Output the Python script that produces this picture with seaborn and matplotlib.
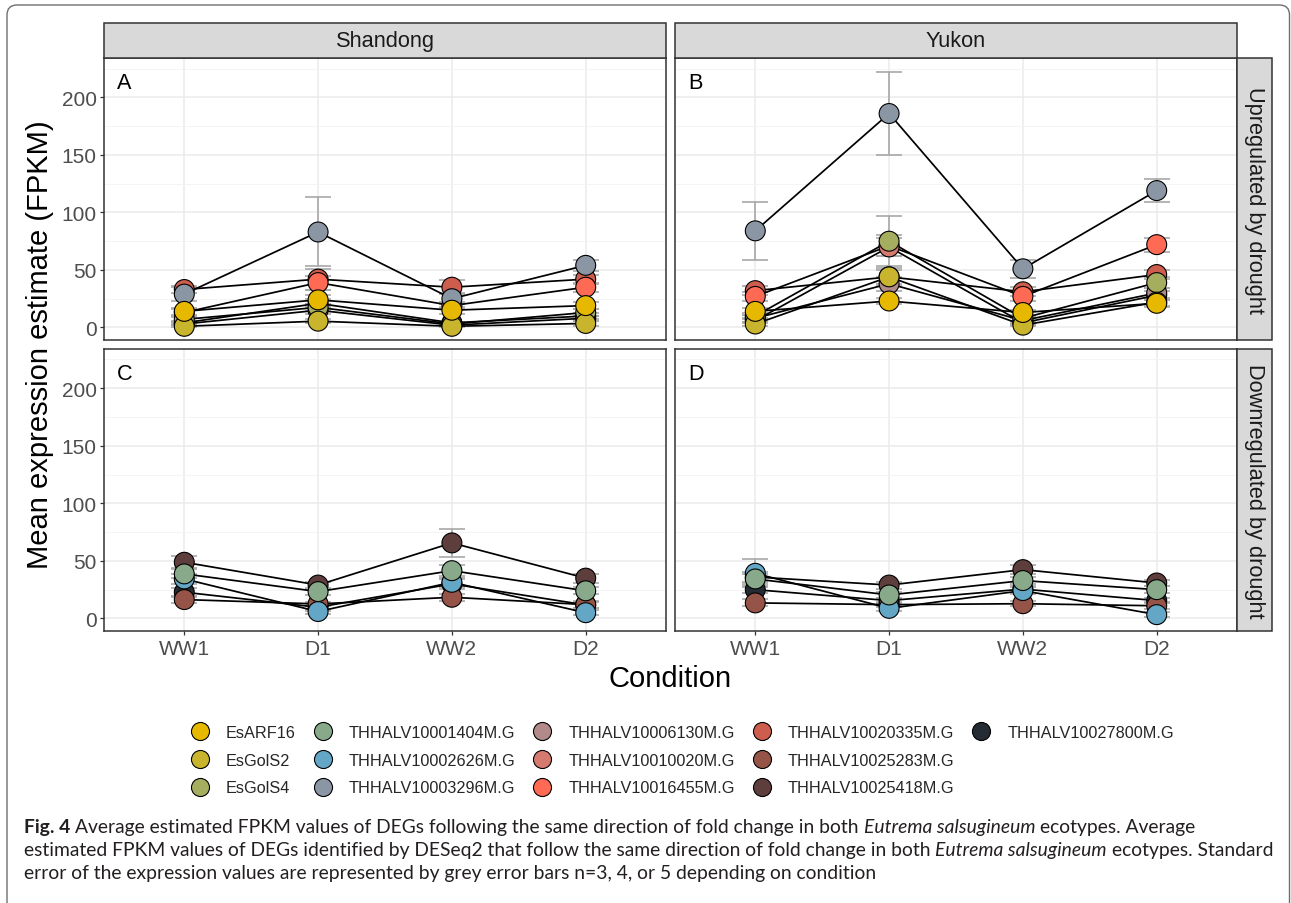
import numpy as np
import pandas as pd
import matplotlib
matplotlib.use("Agg")
import matplotlib.pyplot as plt
import seaborn as sns
from matplotlib.patches import Rectangle, FancyBboxPatch
from matplotlib.lines import Line2D
from matplotlib import font_manager as fm
import matplotlib.transforms as mtransforms

# ---------------- data ----------------
CONDITIONS = ["WW1", "D1", "WW2", "D2"]
ECOTYPES = ["Shandong", "Yukon"]
DIRECTIONS = ["Upregulated by drought", "Downregulated by drought"]
PANEL_TAGS = [["A", "B"], ["C", "D"]]

ALL_GENES = ["EsARF16", "EsGolS2", "EsGolS4", "THHALV10001404M.G", "THHALV10002626M.G",
             "THHALV10003296M.G", "THHALV10006130M.G", "THHALV10010020M.G", "THHALV10016455M.G",
             "THHALV10020335M.G", "THHALV10025283M.G", "THHALV10025418M.G", "THHALV10027800M.G"]
GENE_COLORS = ["#E6B800", "#C9B42E", "#A4AE5E", "#88AA8B", "#63A6C5",
               "#8B96A4", "#B28A8A", "#D67A70", "#FF6A55",
               "#CD5D4D", "#965448", "#5E3E3C", "#252B33"]

UP_GENES = ["EsARF16", "EsGolS2", "EsGolS4", "THHALV10003296M.G", "THHALV10006130M.G",
            "THHALV10010020M.G", "THHALV10016455M.G", "THHALV10020335M.G"]
DOWN_GENES = ["THHALV10001404M.G", "THHALV10002626M.G", "THHALV10025283M.G",
              "THHALV10025418M.G", "THHALV10027800M.G"]

# rows follow UP_GENES, columns follow CONDITIONS
SHANDONG_UP_MEAN = [[14, 24, 15, 19], [1, 5.5, 1, 3.5], [7, 17.5, 3, 13], [29, 83, 25, 54],
                    [4, 21, 4, 10], [3, 15, 2, 8], [13, 39, 19, 35], [33, 42, 35, 42]]
SHANDONG_UP_SE = [[3, 4, 3, 3], [1, 2, 1, 2], [2, 3, 1, 3], [6, 30, 5, 5],
                  [2, 4, 1, 3], [1, 3, 1, 2], [3, 6, 3, 4], [3, 9, 6, 4]]
YUKON_UP_MEAN = [[14, 23, 13, 21], [3, 44, 2, 22], [10, 75, 8, 39], [84, 186, 51, 119],
                 [8, 38, 6, 30], [6, 70, 4, 28], [27, 71, 27, 72], [32, 44, 31, 46]]
YUKON_UP_SE = [[3, 3, 2, 3], [2, 8, 1, 3], [3, 22, 2, 5], [25, 36, 8, 10],
               [3, 6, 2, 4], [2, 8, 2, 4], [4, 9, 4, 6], [4, 6, 4, 4]]
# rows follow DOWN_GENES
SHANDONG_DOWN_MEAN = [[38.7, 23.3, 41.5, 24], [34.3, 6, 31.4, 5], [16.4, 12.6, 18.4, 12],
                      [48.8, 29, 65.6, 35], [22.8, 9.7, 30, 11.7]]
SHANDONG_DOWN_SE = [[4, 3, 5, 3], [4, 2, 4, 2], [3, 2, 3, 3], [5, 3, 12, 4], [4, 3, 4, 3]]
YUKON_DOWN_MEAN = [[34.3, 20.4, 32.9, 25], [39.2, 8.8, 24.2, 3.3], [13.5, 12, 12.8, 11],
                   [36, 29, 42.4, 30.8], [25, 15.5, 25.5, 15.5]]
YUKON_DOWN_SE = [[4, 3, 3, 3], [12, 2, 3, 2], [3, 2, 2, 3], [4, 3, 4, 3], [3, 2, 3, 2]]

Y_TICKS = [0, 50, 100, 150, 200]

CAPTION_LINES = [
    [("Fig. 4", "bold", "normal"),
     ("Average estimated FPKM values of DEGs following the same direction of fold change in both", "normal", "normal"),
     ("Eutrema salsugineum", "normal", "italic"),
     ("ecotypes. Average", "normal", "normal")],
    [("estimated FPKM values of DEGs identified by DESeq2 that follow the same direction of fold change in both", "normal", "normal"),
     ("Eutrema salsugineum", "normal", "italic"),
     ("ecotypes. Standard", "normal", "normal")],
    [("error of the expression values are represented by grey error bars n=3, 4, or 5 depending on condition", "normal", "normal")],
]

# ---------------- table ----------------
records = []
blocks = [("Shandong", "Upregulated by drought", UP_GENES, SHANDONG_UP_MEAN, SHANDONG_UP_SE),
          ("Yukon", "Upregulated by drought", UP_GENES, YUKON_UP_MEAN, YUKON_UP_SE),
          ("Shandong", "Downregulated by drought", DOWN_GENES, SHANDONG_DOWN_MEAN, SHANDONG_DOWN_SE),
          ("Yukon", "Downregulated by drought", DOWN_GENES, YUKON_DOWN_MEAN, YUKON_DOWN_SE)]
for eco, direc, genes, means, ses in blocks:
    for g, mrow, srow in zip(genes, means, ses):
        for ci, (cond, m, s) in enumerate(zip(CONDITIONS, mrow, srow)):
            records.append(dict(ecotype=eco, direction=direc, gene=g, condition=cond,
                                xpos=ci, value=m, se=s, order=ALL_GENES.index(g)))
df = pd.DataFrame(records)
palette = dict(zip(ALL_GENES, GENE_COLORS))

# ---------------- figure ----------------
W, H = 1291, 904
sns.set_theme(style="white")
plt.rcParams['font.family'] = ['Liberation Sans', 'DejaVu Sans']
CHART_FONT = ['Liberation Sans', 'DejaVu Sans']

fig = plt.figure(figsize=(W / 100, H / 100), dpi=100)
fig.patch.set_facecolor("white")


def fx(x):
    return x / W


def fy(y):
    return 1 - y / H


# outer rounded border (pixel coordinates)
border = FancyBboxPatch((7, -30), 1289.5 - 7, (H - 6) + 30, boxstyle="round,pad=0,rounding_size=10",
                        transform=mtransforms.IdentityTransform(), facecolor="none",
                        edgecolor="#6E6E6E", lw=1.0)
fig.patches.append(border)

col_x = [(104, 666), (675, 1237)]
row_y = [(59.3, 341), (350, 632)]
DARK = "#333333"

for ri, direc in enumerate(DIRECTIONS):
    for ci, eco in enumerate(ECOTYPES):
        l, r = col_x[ci]
        t, b = row_y[ri]
        ax = fig.add_axes([fx(l), fy(b), (r - l) / W, (b - t) / H])
        sub = df[(df.ecotype == eco) & (df.direction == direc)]
        ax.set_xlim(-0.6, 3.6)
        ax.set_ylim(-10.9, 234)
        ax.set_yticks(Y_TICKS)
        ax.set_yticks([25, 75, 125, 175, 225], minor=True)
        ax.set_xticks(range(len(CONDITIONS)))
        ax.grid(which="major", color="#EBEBEB", lw=1.1, zorder=0)
        ax.grid(which="minor", axis="y", color="#F3F3F3", lw=0.6, zorder=0)
        ax.set_axisbelow(True)

        ax.errorbar(sub.xpos, sub.value, yerr=sub.se, fmt="none", ecolor="#A8A8A8",
                    elinewidth=1.2, capsize=9.6, capthick=1.2, zorder=2)
        sns.lineplot(data=sub, x="xpos", y="value", units="gene", estimator=None,
                     color="black", linewidth=1.25, ax=ax, legend=False, zorder=3)
        sns.scatterplot(data=sub.sort_values("order", ascending=False), x="xpos", y="value",
                        hue="gene", palette=palette, s=205, edgecolor="black", linewidth=0.8,
                        ax=ax, legend=False, zorder=4)
        ax.set_xlabel("")
        ax.set_ylabel("")
        for sp in ax.spines.values():
            sp.set_color(DARK)
            sp.set_linewidth(1.1)
        ax.tick_params(which="minor", length=0)
        if ci == 0:
            ax.set_yticklabels([str(v) for v in Y_TICKS], family=CHART_FONT)
            ax.tick_params(axis="y", which="major", left=True, length=3.2, width=0.9, color=DARK,
                           labelsize=15, labelcolor="#4D4D4D", pad=2)
        else:
            ax.tick_params(axis="y", which="major", left=False, labelleft=False)
        if ri == 1:
            ax.set_xticklabels(CONDITIONS, family=CHART_FONT)
            ax.tick_params(axis="x", which="major", bottom=True, length=3.2, width=0.9, color=DARK,
                           labelsize=15, labelcolor="#4D4D4D", pad=2.5)
        else:
            ax.tick_params(axis="x", which="major", bottom=False, labelbottom=False)
        # panel tag
        fig.text(fx(l + 13), fy(t + 30), PANEL_TAGS[ri][ci], fontsize=15.6, color="black",
                 ha="left", va="baseline", family=CHART_FONT)

# strips
def strip(l, t, r, b, text, rot):
    fig.patches.append(Rectangle((fx(l), fy(b)), (r - l) / W, (b - t) / H, transform=fig.transFigure,
                                 facecolor="#D9D9D9", edgecolor=DARK, lw=1.1))
    fig.text(fx((l + r) / 2), fy((t + b) / 2), text, rotation=rot, ha="center", va="center",
             fontsize=15.7, color="#1A1A1A", rotation_mode="anchor", family=CHART_FONT)

for ci, eco in enumerate(ECOTYPES):
    l, r = col_x[ci]
    strip(l, 24, r, 59.3, eco, 0)
for ri, direc in enumerate(DIRECTIONS):
    t, b = row_y[ri]
    strip(1237, t, 1272, b, direc, -90)

# axis titles
fig.text(fx(40), fy(345), "Mean expression estimate (FPKM)", rotation=90, ha="center", va="center",
         fontsize=21, color="black", family=CHART_FONT)
fig.text(fx(670.5), fy(687), "Condition", ha="center", va="baseline", fontsize=21, color="black",
         family=CHART_FONT)

# legend
handles, labels = [], []
for g, c in zip(ALL_GENES, GENE_COLORS):
    handles.append(Line2D([], [], linestyle="none", marker="o", markersize=13, markerfacecolor=c,
                          markeredgecolor="black", markeredgewidth=0.8))
    labels.append(g)
for _ in range(2):
    handles.append(Line2D([], [], linestyle="none"))
    labels.append("")
fig.legend(handles, labels, ncol=5, loc="upper left", bbox_to_anchor=(fx(192), fy(726)),
           frameon=False, handlelength=1.0, handletextpad=1.1, columnspacing=1.15,
           labelspacing=0.78, borderpad=0, borderaxespad=0,
           prop=fm.FontProperties(family=CHART_FONT, size=11.7))

# caption
names = {f.name for f in fm.fontManager.ttflist}
cap_family = "Lato" if "Lato" in names else "DejaVu Sans"
renderer = fig.canvas.get_renderer()


def measure(s, size, weight="normal", style="normal"):
    t = fig.text(0, 0, s, fontsize=size, family=cap_family, weight=weight, style=style)
    w = t.get_window_extent(renderer).width
    t.remove()
    return w


def line_width(segs, size):
    sp = measure("a a", size) - measure("aa", size)
    return sum(measure(s, size, w, st) for s, w, st in segs) + sp * (len(segs) - 1)


base = 10.0
cap_size = base * (1275 - 24) / line_width(CAPTION_LINES[1], base)
space_w = measure("a a", cap_size) - measure("aa", cap_size)
baselines = [833, 856, 879]
for segs, yb in zip(CAPTION_LINES, baselines):
    x = 24
    for s, w, st in segs:
        fig.text(fx(x), fy(yb), s, fontsize=cap_size, family=cap_family, weight=w, style=st,
                 ha="left", va="baseline", color="#231F20")
        x += measure(s, cap_size, w, st) + space_w

fig.savefig("out.png", dpi=100, facecolor="white")
